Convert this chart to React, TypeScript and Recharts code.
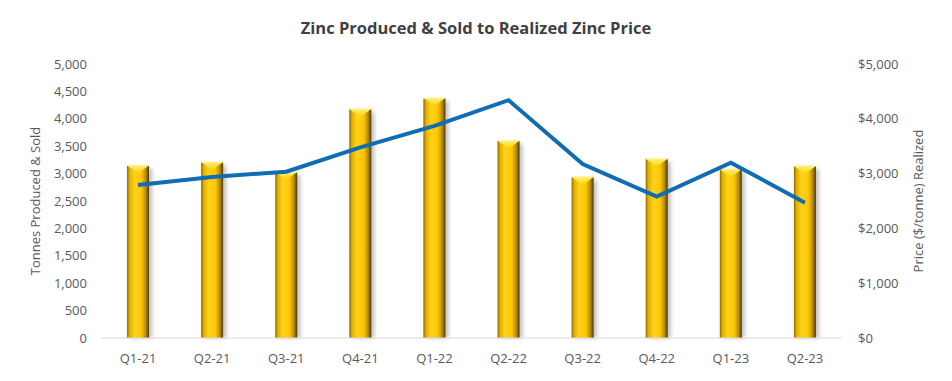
import React from "react"
import { ComposedChart, Bar, Line, XAxis, YAxis } from "recharts"

// data
const quarters = ["Q1-21", "Q2-21", "Q3-21", "Q4-21", "Q1-22", "Q2-22", "Q3-22", "Q4-22", "Q1-23", "Q2-23"]
const tonnes = [3150, 3210, 3030, 4180, 4380, 3600, 2940, 3270, 3080, 3140]
const price = [2790, 2940, 3035, 3480, 3870, 4340, 3175, 2580, 3200, 2470]
const leftTicks = [0, 500, 1000, 1500, 2000, 2500, 3000, 3500, 4000, 4500, 5000]
const rightTicks = [0, 1000, 2000, 3000, 4000, 5000]

const rows = quarters.map((q, i) => ({ q, tonnes: tonnes[i], price: price[i] }))

const FONT = "'Open Sans', 'Noto Sans', sans-serif"
const tickStyle = { fill: "#595959", fontSize: 13, fontFamily: FONT }

// excel-ish bevelled gold bar
const GoldBar = (props: any) => {
  const { x, y, width, height } = props
  if (!height || height <= 0) return null
  const bevel = Math.min(8, height)
  return (
    <g>
      <rect x={x + 3} y={y + 3} width={width} height={height - 3} fill="#000" opacity={0.25} filter="url(#barShadow)" />
      <rect x={x} y={y} width={width} height={height} fill="url(#goldBody)" />
      <polygon
        points={`${x},${y} ${x + width},${y} ${x + width / 2},${y + bevel}`}
        fill="url(#goldTop)"
      />
      <line x1={x} y1={y} x2={x + width} y2={y} stroke="#fff3a0" strokeWidth={1} />
    </g>
  )
}

export default function App() {
  return (
    <div style={{ position: "absolute", left: 0, top: 0, width: 952, height: 381, background: "#fff" }}>
      <div
        style={{
          position: "absolute",
          top: 16,
          left: 0,
          width: 952,
          textAlign: "center",
          fontFamily: FONT,
          fontWeight: 700,
          fontSize: 16.5,
          color: "#404040",
        }}
      >
        Zinc Produced &amp; Sold to Realized Zinc Price
      </div>
      <ComposedChart
        width={952}
        height={381}
        data={rows}
        margin={{ top: 64, right: 0, bottom: 0, left: 0 }}
        barSize={22}
      >
        <defs>
          <linearGradient id="goldBody" x1="0" y1="0" x2="1" y2="0">
            <stop offset="0%" stopColor="#8c6a00" />
            <stop offset="12%" stopColor="#e2b000" />
            <stop offset="35%" stopColor="#ffd21c" />
            <stop offset="65%" stopColor="#ffc700" />
            <stop offset="85%" stopColor="#b88c00" />
            <stop offset="100%" stopColor="#4a3800" />
          </linearGradient>
          <linearGradient id="goldTop" x1="0" y1="0" x2="0" y2="1">
            <stop offset="0%" stopColor="#fff07a" />
            <stop offset="100%" stopColor="#ffd000" />
          </linearGradient>
          <filter id="barShadow" x="-50%" y="-10%" width="200%" height="120%">
            <feGaussianBlur stdDeviation="2" />
          </filter>
        </defs>
        <XAxis
          dataKey="q"
          height={43}
          tick={tickStyle}
          tickLine={false}
          axisLine={{ stroke: "#d9d9d9" }}
          tickMargin={10}
        />
        <YAxis
          yAxisId="left"
          width={101}
          domain={[0, 5000]}
          ticks={leftTicks}
          interval={0}
          tick={tickStyle}
          tickFormatter={(v: number) => v.toLocaleString("en-US")}
          axisLine={false}
          tickLine={false}
          tickMargin={8}
          label={{
            value: "Tonnes Produced & Sold",
            angle: -90,
            position: "insideLeft",
            offset: 35,
            style: { ...tickStyle, textAnchor: "middle" },
          }}
        />
        <YAxis
          yAxisId="right"
          orientation="right"
          width={110}
          domain={[0, 5000]}
          ticks={rightTicks}
          interval={0}
          tick={{ ...tickStyle, textAnchor: "start" }}
          tickFormatter={(v: number) => "$" + v.toLocaleString("en-US")}
          axisLine={false}
          tickLine={false}
          tickMargin={10}
          label={{
            value: "Price ($/tonne) Realized",
            angle: -90,
            position: "insideRight",
            offset: 34,
            style: { ...tickStyle, textAnchor: "middle" },
          }}
        />
        <Bar yAxisId="left" dataKey="tonnes" shape={<GoldBar />} isAnimationActive={false} />
        <Line
          yAxisId="right"
          dataKey="price"
          type="linear"
          stroke="#0f6db3"
          strokeWidth={4}
          dot={false}
          activeDot={false}
          isAnimationActive={false}
        />
      </ComposedChart>
    </div>
  )
}
